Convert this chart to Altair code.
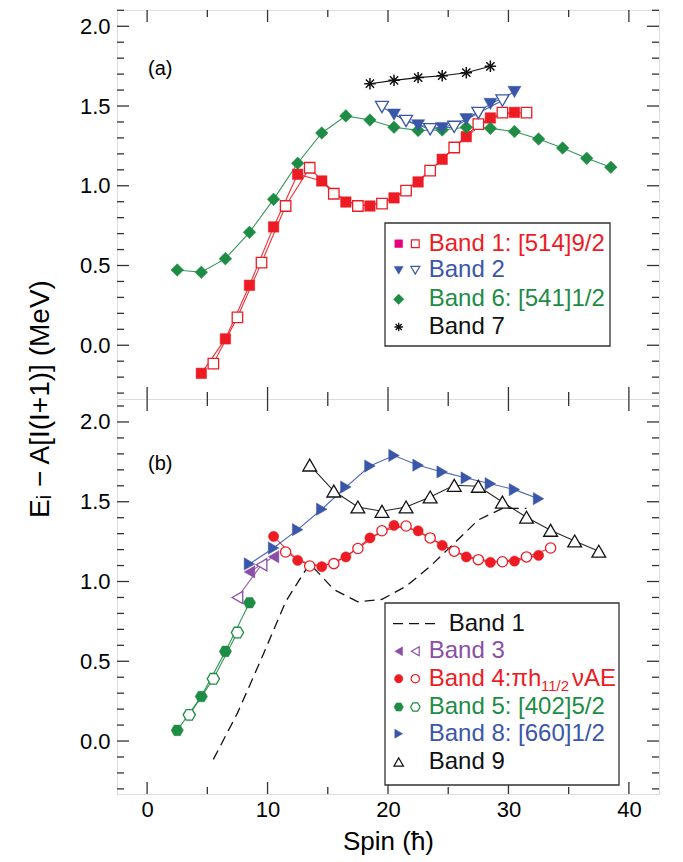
import altair as alt
import pandas as pd

FONT = "Liberation Sans, Arial, Helvetica, sans-serif"
RED = "#ed1c24"
MAG = "#e6007e"
BLUE = "#3a56a8"
GREEN = "#1e8c45"
PURPLE = "#8b4ea6"
BLACK = "#111111"
FRAME = "#333333"

# ---------------- data: panel (a) ----------------
b1_fill_spin = [4.5, 6.5, 8.5, 10.5, 12.5, 14.5, 16.5, 18.5, 20.5, 22.5, 24.5, 26.5, 28.5, 30.5]
b1_fill_val = [-0.176, 0.04, 0.376, 0.742, 1.072, 1.03, 0.898, 0.873, 0.924, 1.024, 1.166, 1.308, 1.425, 1.46]
b1_open_spin = [5.5, 7.5, 9.5, 11.5, 13.5, 15.5, 17.5, 19.5, 21.5, 23.5, 25.5, 27.5, 29.5, 31.5]
b1_open_val = [-0.115, 0.175, 0.518, 0.873, 1.113, 0.95, 0.873, 0.888, 0.97, 1.095, 1.24, 1.386, 1.458, 1.458]

b2_fill_spin = [20.5, 22.5, 24.5, 26.5, 28.5, 30.5]
b2_fill_val = [1.446, 1.379, 1.362, 1.417, 1.513, 1.588]
b2_open_spin = [19.5, 21.5, 23.5, 25.5, 27.5, 29.5]
b2_open_val = [1.494, 1.406, 1.354, 1.369, 1.456, 1.534]

b6_spin = [2.5, 4.5, 6.5, 8.5, 10.5, 12.5, 14.5, 16.5, 18.5, 20.5, 22.5, 24.5, 26.5, 28.5, 30.5, 32.5, 34.5, 36.5, 38.5]
b6_val = [0.472, 0.458, 0.543, 0.708, 0.915, 1.141, 1.331, 1.438, 1.412, 1.367, 1.347, 1.35, 1.367, 1.36, 1.34, 1.293, 1.237, 1.172, 1.116]

b7_spin = [18.5, 20.5, 22.5, 24.5, 26.5, 28.5]
b7_val = [1.64, 1.661, 1.678, 1.69, 1.709, 1.749]

# ---------------- data: panel (b) ----------------
b3_fill_spin = [8.5, 10.5]
b3_fill_val = [1.06, 1.155]
b3_open_spin = [7.5, 9.5]
b3_open_val = [0.90, 1.105]

b4_fill_spin = [10.5, 12.5, 14.5, 16.5, 18.5, 20.5, 22.5, 24.5, 26.5, 28.5, 30.5, 32.5]
b4_fill_val = [1.283, 1.133, 1.093, 1.154, 1.273, 1.352, 1.318, 1.227, 1.154, 1.12, 1.128, 1.164]
b4_open_spin = [11.5, 13.5, 15.5, 17.5, 19.5, 21.5, 23.5, 25.5, 27.5, 29.5, 31.5, 33.5]
b4_open_val = [1.185, 1.097, 1.112, 1.207, 1.318, 1.348, 1.273, 1.19, 1.137, 1.124, 1.154, 1.21]

b5_fill_spin = [2.5, 4.5, 6.5, 8.5]
b5_fill_val = [0.067, 0.279, 0.562, 0.867]
b5_open_spin = [3.5, 5.5, 7.5]
b5_open_val = [0.164, 0.39, 0.68]

b8_spin = [8.5, 10.5, 12.5, 14.5, 16.5, 18.5, 20.5, 22.5, 24.5, 26.5, 28.5, 30.5, 32.5]
b8_val = [1.11, 1.21, 1.325, 1.453, 1.592, 1.724, 1.79, 1.729, 1.687, 1.649, 1.613, 1.576, 1.519]

b9_spin = [13.5, 15.5, 17.5, 19.5, 21.5, 23.5, 25.5, 27.5, 29.5, 31.5, 33.5, 35.5, 37.5]
b9_val = [1.73, 1.567, 1.467, 1.44, 1.467, 1.53, 1.603, 1.597, 1.498, 1.403, 1.321, 1.254, 1.19]

# ---------------- ticks / labels ----------------
x_major = [0, 10, 20, 30, 40]
x_minor = [5, 15, 25, 35]
y_major = [0.0, 0.5, 1.0, 1.5, 2.0]
y_minor = [-0.3, -0.2, -0.1, 0.1, 0.2, 0.3, 0.4, 0.6, 0.7, 0.8, 0.9, 1.1, 1.2, 1.3, 1.4, 1.6, 1.7, 1.8, 1.9, 2.1]

legend_a = ["Band 1: [514]9/2", "Band 2", "Band 6: [541]1/2", "Band 7"]
legend_b = ["Band 1", "Band 3", "Band 4:πh", "11/2", "νAE", "Band 5: [402]5/2", "Band 8: [660]1/2", "Band 9"]
y_title = "Eᵢ − A[I(I+1)] (MeV)"
x_title = "Spin (ħ)"

HEX = "M-1,0L-0.5,-0.866L0.5,-0.866L1,0L0.5,0.866L-0.5,0.866Z"
STAR = "M-1,0L1,0M0,-1L0,1M-0.72,-0.72L0.72,0.72M-0.72,0.72L0.72,-0.72"

W = 542
HA = 389
HB = 395
xscale = alt.Scale(domain=[-2.5, 42.5], nice=False, zero=False)
ysa = alt.Scale(domain=[-0.337, 2.102], nice=False, zero=False)
ysb = alt.Scale(domain=[-0.332, 2.144], nice=False, zero=False)

yaxis = alt.Axis(values=y_major, format=".1f", ticks=False, tickSize=0, domain=False, grid=False,
                 labelFontSize=22, labelFont=FONT, labelColor="black", labelPadding=7, title=None)
xaxis_b = alt.Axis(values=x_major, format="d", ticks=False, tickSize=0, domain=False, grid=False,
                   labelFontSize=22, labelFont=FONT, labelColor="black", labelPadding=5,
                   title=x_title, titleFontSize=26, titleFont=FONT, titleFontWeight="normal",
                   titleColor="black", titlePadding=8)


def enc(xaxis, yscale):
    X = alt.X("s:Q", scale=xscale, axis=xaxis, title=None if xaxis is None else x_title)
    Y = alt.Y("v:Q", scale=yscale, axis=yaxis)
    return X, Y


def series(spins, vals, X, Y, color, shape, size, filled=True, line=True, dash=None, sw=1.3):
    df = pd.DataFrame({"s": spins, "v": vals})
    base = alt.Chart(df).encode(x=X, y=Y)
    out = []
    if line:
        kw = dict(color=color, strokeWidth=1.1, opacity=0.9)
        if dash:
            kw = dict(color=color, strokeWidth=1.3, strokeDash=dash)
        out.append(base.mark_line(**kw))
    if shape is not None:
        if filled:
            out.append(base.mark_point(shape=shape, size=size, fill=color, stroke=color,
                                       strokeWidth=0.5, opacity=1, fillOpacity=1))
        else:
            out.append(base.mark_point(shape=shape, size=size, fill="white", stroke=color,
                                       strokeWidth=sw, opacity=1, fillOpacity=1))
    return out


def star_series(spins, vals, X, Y, color, size):
    df = pd.DataFrame({"s": spins, "v": vals})
    base = alt.Chart(df).encode(x=X, y=Y)
    return [base.mark_line(color=color, strokeWidth=1.1),
            base.mark_point(shape=STAR, size=size, filled=False, stroke=color, strokeWidth=1.5, opacity=1),
            base.mark_point(shape="circle", size=10, filled=True, color=color, opacity=1)]


def ticks(X, Y, H):
    out = []
    for vals, ln in ((y_major, 12), (y_minor, 7)):
        d = alt.Chart(pd.DataFrame({"v": vals}))
        out.append(d.mark_rule(color=FRAME, strokeWidth=1.3).encode(y=Y, x=alt.value(0), x2=alt.value(ln)))
        out.append(d.mark_rule(color=FRAME, strokeWidth=1.3).encode(y=Y, x=alt.value(W - ln), x2=alt.value(W)))
    for vals, ln in ((x_major, 12), (x_minor, 7)):
        d = alt.Chart(pd.DataFrame({"s": vals}))
        out.append(d.mark_rule(color=FRAME, strokeWidth=1.3).encode(x=X, y=alt.value(0), y2=alt.value(ln)))
        out.append(d.mark_rule(color=FRAME, strokeWidth=1.3).encode(x=X, y=alt.value(H - ln), y2=alt.value(H)))
    return out


ONE = pd.DataFrame({"a": [0]})


def txt(t, x, y, color, size=24, align="left", angle=None, font=FONT):
    kw = dict(align=align, baseline="middle", fontSize=size, font=font, color=color)
    if angle is not None:
        kw["angle"] = angle
    return alt.Chart(pd.DataFrame({"t": [t]})).mark_text(**kw).encode(
        x=alt.value(x), y=alt.value(y), text="t:N")


def box(x1, x2, y1, y2):
    return alt.Chart(ONE).mark_rect(fill="white", stroke=FRAME, strokeWidth=1.3).encode(
        x=alt.value(x1), x2=alt.value(x2), y=alt.value(y1), y2=alt.value(y2))


def sym(x, y, shape, size, color, filled=True, sw=1.2):
    if filled:
        m = alt.Chart(ONE).mark_point(shape=shape, size=size, fill=color, stroke=color, strokeWidth=0.5,
                                      opacity=1, fillOpacity=1)
    else:
        m = alt.Chart(ONE).mark_point(shape=shape, size=size, fill="white", stroke=color, strokeWidth=sw,
                                      opacity=1, fillOpacity=1)
    return m.encode(x=alt.value(x), y=alt.value(y))


# ---------------- panel (a) ----------------
XA, YA = enc(None, ysa)
la = []
la += ticks(XA, YA, HA)
la += series(b1_fill_spin, b1_fill_val, XA, YA, RED, None, 0)
la += series(b1_open_spin, b1_open_val, XA, YA, RED, None, 0)
la += series(b6_spin, b6_val, XA, YA, GREEN, None, 0)
la += series(b2_fill_spin, b2_fill_val, XA, YA, BLUE, None, 0)
la += series(b2_open_spin, b2_open_val, XA, YA, BLUE, None, 0)
la += series(b1_fill_spin, b1_fill_val, XA, YA, RED, "square", 110, True, line=False)
la += series(b1_open_spin, b1_open_val, XA, YA, RED, "square", 110, False, line=False)
la += series(b6_spin, b6_val, XA, YA, GREEN, "diamond", 160, True, line=False)
la += series(b2_fill_spin, b2_fill_val, XA, YA, BLUE, "triangle-down", 170, True, line=False)
la += series(b2_open_spin, b2_open_val, XA, YA, BLUE, "triangle-down", 170, False, line=False)
la += star_series(b7_spin, b7_val, XA, YA, BLACK, 130)
# legend (a)
la.append(box(268, 493, 213, 336))
rows_a = [233.7, 260.3, 289.3, 317]
la.append(sym(281.7, rows_a[0], "square", 60, MAG))
la.append(sym(298.3, rows_a[0], "square", 60, RED, False))
la.append(sym(281.7, rows_a[1], "triangle-down", 80, BLUE))
la.append(sym(298.3, rows_a[1], "triangle-down", 80, BLUE, False))
la.append(sym(281.7, rows_a[2], "diamond", 110, GREEN))
la.append(alt.Chart(ONE).mark_point(shape=STAR, size=70, filled=False, stroke=BLACK, strokeWidth=1.3,
                                    opacity=1).encode(x=alt.value(281.7), y=alt.value(rows_a[3])))
for t, y, c in zip(legend_a, rows_a, [RED, BLUE, GREEN, BLACK]):
    la.append(txt(t, 311.7, y, c))
la.append(txt("(a)", 31, 59, "black", size=20))
la.append(txt(y_title, -76, 389, "black", size=28, align="center", angle=270))

panel_a = alt.layer(*la).properties(width=W, height=HA)

# ---------------- panel (b) ----------------
XB, YB = enc(xaxis_b, ysb)
lb = []
lb += ticks(XB, YB, HB)
lb += series(b1_open_spin, b1_open_val, XB, YB, BLACK, None, 0, dash=[10, 6])
lb += series(b5_fill_spin, b5_fill_val, XB, YB, GREEN, None, 0)
lb += series(b5_open_spin, b5_open_val, XB, YB, GREEN, None, 0)
lb += series(b3_fill_spin, b3_fill_val, XB, YB, PURPLE, None, 0)
lb += series(b3_open_spin, b3_open_val, XB, YB, PURPLE, None, 0)
lb += series(b4_fill_spin, b4_fill_val, XB, YB, RED, None, 0)
lb += series(b4_open_spin, b4_open_val, XB, YB, RED, None, 0)
lb += series(b8_spin, b8_val, XB, YB, BLUE, None, 0)
lb += series(b9_spin, b9_val, XB, YB, BLACK, None, 0)
lb += series(b5_fill_spin, b5_fill_val, XB, YB, GREEN, HEX, 150, True, line=False)
lb += series(b5_open_spin, b5_open_val, XB, YB, GREEN, HEX, 150, False, line=False)
lb += series(b3_fill_spin, b3_fill_val, XB, YB, PURPLE, "triangle-left", 150, True, line=False)
lb += series(b3_open_spin, b3_open_val, XB, YB, PURPLE, "triangle-left", 150, False, line=False)
lb += series(b4_fill_spin, b4_fill_val, XB, YB, RED, "circle", 105, True, line=False)
lb += series(b4_open_spin, b4_open_val, XB, YB, RED, "circle", 105, False, line=False)
lb += series(b8_spin, b8_val, XB, YB, BLUE, "triangle-right", 150, True, line=False)
lb += series(b9_spin, b9_val, XB, YB, BLACK, "triangle-up", 190, False, line=False, sw=1.3)
# legend (b)
lb.append(box(268, 502, 204, 386))
rows_b = [224.7, 252.3, 279.7, 308, 334.7, 363]
lb.append(alt.Chart(ONE).mark_rule(color=BLACK, strokeWidth=1.3, strokeDash=[10, 6]).encode(
    x=alt.value(276), x2=alt.value(322), y=alt.value(rows_b[0])))
lb.append(sym(281.7, rows_b[1], "triangle-left", 80, PURPLE))
lb.append(sym(298.3, rows_b[1], "triangle-left", 80, PURPLE, False))
lb.append(sym(281.7, rows_b[2], "circle", 70, RED))
lb.append(sym(298.3, rows_b[2], "circle", 70, RED, False))
lb.append(sym(281.7, rows_b[3], HEX, 90, GREEN))
lb.append(sym(298.3, rows_b[3], HEX, 90, GREEN, False))
lb.append(sym(281.7, rows_b[4], "triangle-right", 80, BLUE))
lb.append(sym(281.7, rows_b[5], "triangle-up", 90, BLACK, False))
lb.append(txt(legend_b[0], 331.7, rows_b[0], BLACK))
lb.append(txt(legend_b[1], 311.7, rows_b[1], PURPLE))
lb.append(txt(legend_b[2], 311.7, rows_b[2], RED))
lb.append(txt(legend_b[3], 424, rows_b[2] + 7, RED, size=15))
lb.append(txt(legend_b[4], 455, rows_b[2], RED))
lb.append(txt(legend_b[5], 311.7, rows_b[3], GREEN))
lb.append(txt(legend_b[6], 311.7, rows_b[4], BLUE))
lb.append(txt(legend_b[7], 311.7, rows_b[5], BLACK))
lb.append(txt("(b)", 31, 64.7, "black", size=20))

panel_b = alt.layer(*lb).properties(width=W, height=HB)

chart = alt.vconcat(panel_a, panel_b, spacing=0, bounds="flush").properties(
    padding={"left": 18, "top": 0, "right": 5, "bottom": 0}
).configure_view(stroke=FRAME, strokeWidth=1.5).configure(font=FONT)

chart.save("out.html", embed_options={"renderer": "svg", "actions": False})
